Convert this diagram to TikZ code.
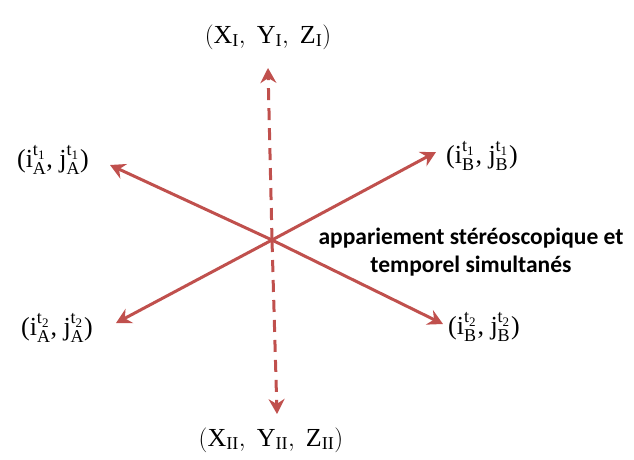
\documentclass[tikz,border=0pt]{standalone}
\usepackage{fontspec}
\setmainfont{Liberation Serif}
\newfontfamily\boldsans{Carlito}
\usetikzlibrary{arrows.meta}
\definecolor{arrred}{RGB}{192,80,77}
\tikzset{
  lbl/.style={font=\fontsize{26}{28}\selectfont, inner sep=0pt},
  conn/.style={draw=arrred, line width=3pt, -{Stealth[length=15pt,width=16pt,inset=5pt]}},
  dashconn/.style={conn, dash pattern=on 12pt off 8pt}
}
\newcommand{\rmv}[1]{\mathrm{#1}}
\newcommand{\myscr}[1]{{\fontsize{18}{18}\selectfont #1}}
\newcommand{\myscrr}[1]{{\fontsize{13}{13}\selectfont #1}}
\newcommand{\mysupsub}[2]{\rlap{\raisebox{-7pt}{\myscr{#2}}}\raisebox{12pt}{\myscr{t}\raisebox{-4pt}{\myscrr{#1}}}\kern2pt}
\newcommand{\ijlab}[2]{(i\mysupsub{#1}{#2}, j\mysupsub{#1}{#2})}
\begin{document}
\begin{tikzpicture}[x=1pt,y=-1pt]
\useasboundingbox (0,0) rectangle (634,459);
\coordinate (c) at (272,240);
\node[lbl] (top) at (268,37) {$(\rmv{X}_{\rmv{I}},\;\rmv{Y}_{\rmv{I}},\;\rmv{Z}_{\rmv{I}})$};
\node[lbl] (bot) at (271,440) {$(\rmv{X}_{\rmv{II}},\;\rmv{Y}_{\rmv{II}},\;\rmv{Z}_{\rmv{II}})$};
\node[lbl] (a1) at (53,160) {\ijlab{1}{A}};
\node[lbl] (b1) at (482,156) {\ijlab{1}{B}};
\node[lbl] (a2) at (57,328) {\ijlab{2}{A}};
\node[lbl] (b2) at (484,327) {\ijlab{2}{B}};
\node[font=\boldsans\bfseries\fontsize{23.5}{28}\selectfont, align=center, inner sep=0pt] (txt) at (471,252)
  {appariement stéréoscopique et\\temporel simultanés};
\coordinate (ta) at (268,68);
\coordinate (ba) at (277,414);
\coordinate (ea1) at (110,165);
\coordinate (eb1) at (436,152);
\coordinate (ea2) at (116,323);
\coordinate (eb2) at (443,324);
\draw[dashconn] (c) -- (ta);
\draw[dashconn] (c) -- (ba);
\draw[conn] (c) -- (ea1);
\draw[conn] (c) -- (eb1);
\draw[conn] (c) -- (ea2);
\draw[conn] (c) -- (eb2);
\end{tikzpicture}
\end{document}
